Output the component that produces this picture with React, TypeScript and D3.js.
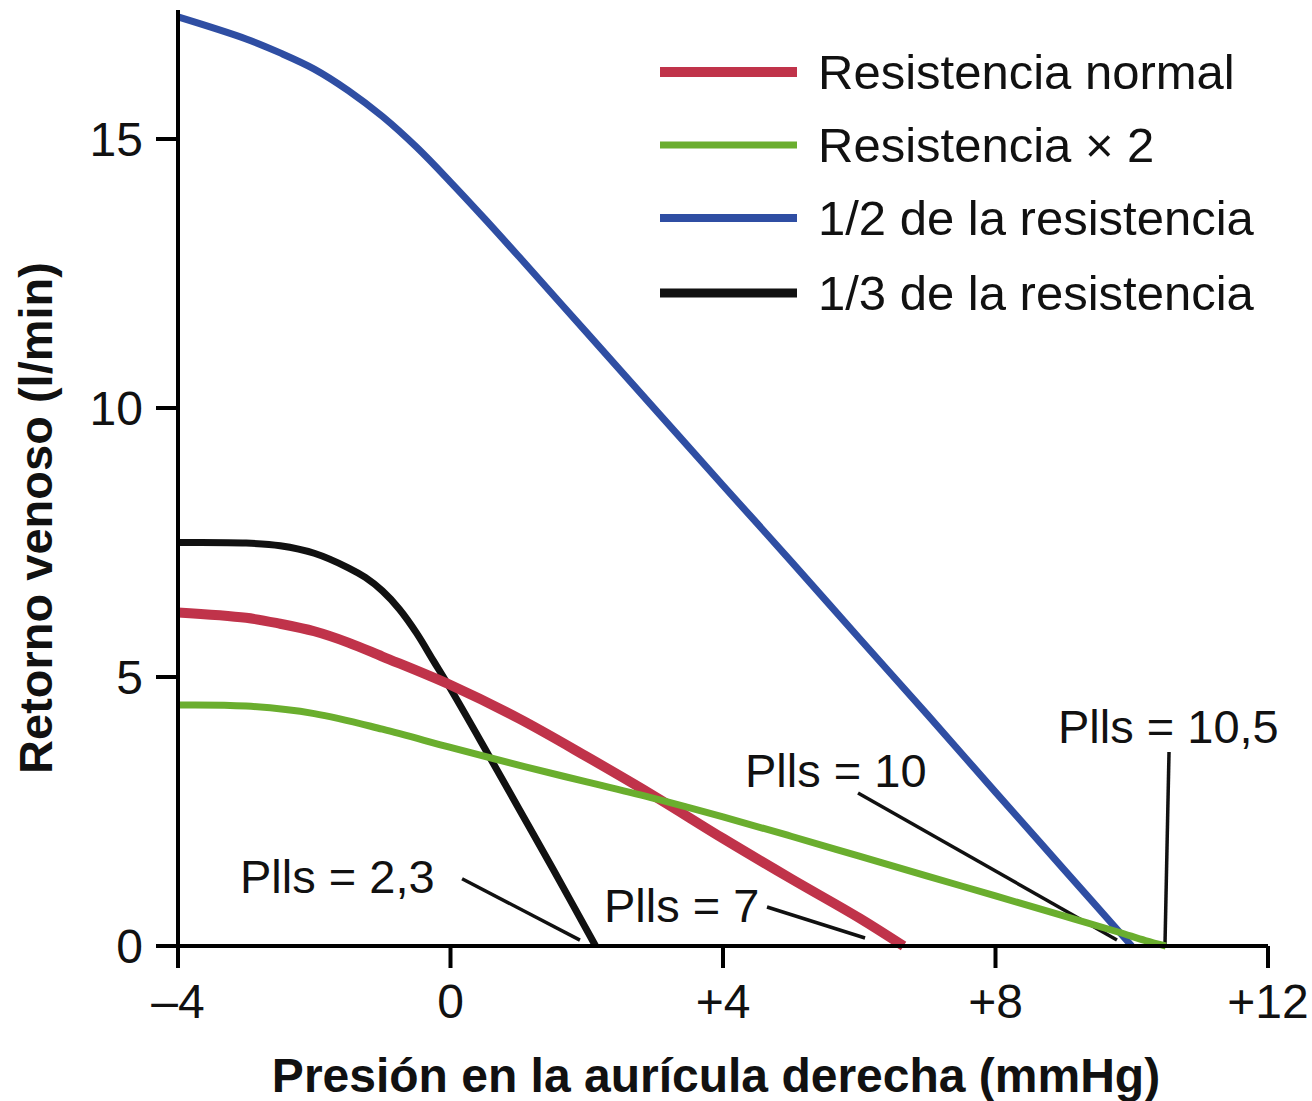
import React from "react";
import * as d3 from "d3";

// ---- Data ----
const xTicks = [-4, 0, 4, 8, 12];
const xTickLabels = ["\u20134", "0", "+4", "+8", "+12"];
const yTicks = [0, 5, 10, 15];
const yTickLabels = ["0", "5", "10", "15"];

const normalX = [-4, -3, -2.5, -2, -1.5, -1, 0, 1, 2, 3, 4, 5, 6, 6.65];
const normalY = [6.2, 6.1, 5.99, 5.85, 5.64, 5.38, 4.85, 4.23, 3.52, 2.78, 2.0, 1.25, 0.52, 0];

const doubleX = [-4, -3, -2, -1, 0, 1, 2, 3, 4, 5, 6, 7, 8, 9, 9.8, 10.2, 10.5];
const doubleY = [4.48, 4.46, 4.32, 4.03, 3.69, 3.36, 3.05, 2.74, 2.4, 2.04, 1.67, 1.3, 0.93, 0.56, 0.26, 0.1, 0];

const halfX = [-4, -3, -2.5, -2, -1.5, -1, -0.5, 0, 0.5, 1, 2, 3, 4, 5, 6, 7, 8, 9, 10];
const halfY = [17.27, 16.86, 16.6, 16.3, 15.9, 15.42, 14.85, 14.2, 13.52, 12.82, 11.4, 9.98, 8.56, 7.15, 5.72, 4.3, 2.86, 1.43, 0];

const thirdX = [-4, -3, -2.5, -2, -1.5, -1.25, -1, -0.75, -0.5, -0.25, 0, 0.5, 1, 1.5, 2.13];
const thirdY = [7.5, 7.49, 7.44, 7.3, 7.03, 6.85, 6.6, 6.26, 5.82, 5.3, 4.78, 3.68, 2.56, 1.44, 0];

const seriesNames = ["Resistencia normal", "Resistencia \u00d7 2", "1/2 de la resistencia", "1/3 de la resistencia"];
const seriesColors = ["#c0334a", "#6aae2e", "#2f4ea3", "#111111"];
const seriesWidths = [10, 7, 7, 7];
const legendWidths = [10, 7, 8, 9];

// Annotations (data units)
const annoLabels = ["Plls = 2,3", "Plls = 7", "Plls = 10", "Plls = 10,5"];
const annoTextX = [-3.09, 2.253, 4.323, 8.917];
const annoTextY = [0.985, 0.446, 2.955, 3.773];
const leaderX1 = [0.17, 4.646, 5.982, 10.547];
const leaderY1 = [1.25, 0.725, 2.844, 3.606];
const leaderX2 = [1.9, 6.085, 9.783, 10.488];
const leaderY2 = [0.11, 0.149, 0.112, 0.037];

const W = 1312;
const H = 1101;
const FONT = "'Liberation Sans', Arial, Helvetica, sans-serif";

export default function App() {
  const x = d3.scaleLinear().domain([-4, 12]).range([178, 1268]);
  const y = d3.scaleLinear().domain([0, 15]).range([946, 139]);
  const yTop = 17.4;

  const line = d3
    .line<[number, number]>()
    .x((d) => x(d[0]))
    .y((d) => y(d[1]))
    .curve(d3.curveCatmullRom.alpha(0.5));

  const zip = (xs: number[], ys: number[]) => xs.map((v, i) => [v, ys[i]] as [number, number]);
  const series = [
    zip(normalX, normalY),
    zip(doubleX, doubleY),
    zip(halfX, halfY),
    zip(thirdX, thirdY),
  ];
  const drawOrder = [2, 3, 0, 1];

  const tickLen = 22;
  const axisW = 4;

  return (
    <svg
      width={W}
      height={H}
      viewBox={`0 0 ${W} ${H}`}
      style={{ position: "absolute", left: 0, top: 0, background: "#fff" }}
      fontFamily={FONT}
    >
      <rect x={0} y={0} width={W} height={H} fill="#fff" />

      {/* Leader lines */}
      {annoLabels.map((_, i) => (
        <line
          key={"ld" + i}
          x1={x(leaderX1[i])}
          y1={y(leaderY1[i])}
          x2={x(leaderX2[i])}
          y2={y(leaderY2[i])}
          stroke="#111"
          strokeWidth={3.5}
        />
      ))}

      {/* Curves */}
      {drawOrder.map((i) => (
        <path
          key={"s" + i}
          d={line(series[i]) || ""}
          fill="none"
          stroke={seriesColors[i]}
          strokeWidth={seriesWidths[i]}
          strokeLinejoin="round"
        />
      ))}

      {/* Axes */}
      <line x1={x(-4)} y1={y(yTop)} x2={x(-4)} y2={y(0) + tickLen} stroke="#000" strokeWidth={axisW} />
      <line x1={x(-4) - tickLen} y1={y(0)} x2={x(12)} y2={y(0)} stroke="#000" strokeWidth={axisW} />
      {xTicks.map((t, i) => (
        <g key={"xt" + i}>
          <line x1={x(t)} y1={y(0)} x2={x(t)} y2={y(0) + tickLen} stroke="#000" strokeWidth={axisW} />
          <text x={x(t)} y={1018} textAnchor="middle" fontSize={48} fill="#111">
            {xTickLabels[i]}
          </text>
        </g>
      ))}
      {yTicks.map((t, i) => (
        <g key={"yt" + i}>
          <line x1={x(-4) - tickLen} y1={y(t)} x2={x(-4)} y2={y(t)} stroke="#000" strokeWidth={axisW} />
          <text x={143} y={y(t) + 17} textAnchor="end" fontSize={48} fill="#111">
            {yTickLabels[i]}
          </text>
        </g>
      ))}

      {/* Axis titles */}
      <text x={716} y={1092} textAnchor="middle" fontSize={48} fontWeight="bold" fill="#111">
        Presión en la aurícula derecha (mmHg)
      </text>
      <text
        transform="translate(52,518) rotate(-90)"
        textAnchor="middle"
        fontSize={47}
        fontWeight="bold"
        fill="#111"
      >
        Retorno venoso (l/min)
      </text>

      {/* Annotations */}
      {annoLabels.map((lbl, i) => (
        <text key={"an" + i} x={x(annoTextX[i])} y={y(annoTextY[i])} fontSize={47} fill="#111">
          {lbl}
        </text>
      ))}

      {/* Legend */}
      {seriesNames.map((name, i) => {
        const ly = [72, 145, 218, 293][i];
        return (
          <g key={"lg" + i}>
            <line x1={660} y1={ly} x2={797} y2={ly} stroke={seriesColors[i]} strokeWidth={legendWidths[i]} />
            <text x={818} y={ly + 17} fontSize={49} fill="#111">
              {name}
            </text>
          </g>
        );
      })}
    </svg>
  );
}
